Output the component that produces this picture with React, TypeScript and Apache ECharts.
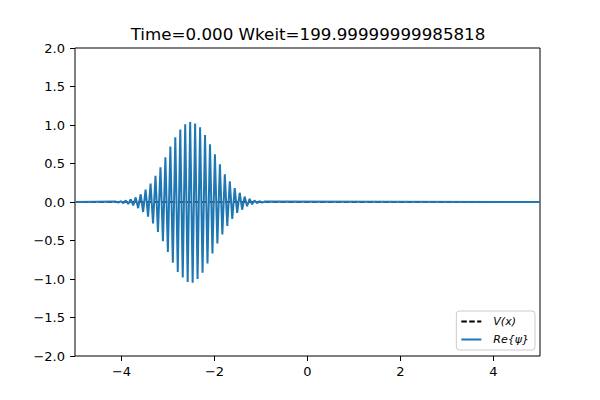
import { useEffect, useRef } from "react";
import * as echarts from "echarts";

// extrema of Re{psi}, left to right (x, value)
const waveX = [
  -5.0, -4.121, -4.068, -4.014, -3.961, -3.908, -3.855, -3.801, -3.748, -3.695,
  -3.642, -3.588, -3.535, -3.482, -3.429, -3.375, -3.322, -3.269, -3.216,
  -3.162, -3.109, -3.056, -3.003, -2.949, -2.896, -2.843, -2.79, -2.736,
  -2.683, -2.63, -2.577, -2.523, -2.47, -2.417, -2.364, -2.31, -2.257,
  -2.204, -2.151, -2.097, -2.044, -1.991, -1.938, -1.884, -1.831, -1.778,
  -1.725, -1.671, -1.618, -1.565, -1.512, -1.458, -1.405, -1.352, -1.299,
  -1.245, -1.192, -1.139, -1.086, -1.032, -0.979, -0.926, 5.0,
];
const waveY = [
  0, 0.005, -0.008, 0.01, -0.015, 0.02, -0.025, 0.035, -0.045, 0.06,
  -0.08, 0.1, -0.13, 0.16, -0.19, 0.24, -0.28, 0.34, -0.39,
  0.45, -0.51, 0.58, -0.65, 0.72, -0.79, 0.84, -0.91, 0.94,
  -0.98, 1.01, -1.04, 1.04, -1.05, 1.02, -1.0, 0.97, -0.92,
  0.87, -0.8, 0.75, -0.67, 0.62, -0.54, 0.49, -0.42, 0.36,
  -0.31, 0.27, -0.22, 0.18, -0.14, 0.12, -0.1, 0.07, -0.055,
  0.04, -0.03, 0.02, -0.015, 0.01, -0.008, 0.005, 0,
];
// potential is zero over the whole box
const potX = [-5, 5];
const potY = [0, 0];

const xTicks = [-4, -2, 0, 2, 4];
const titleText = "Time=0.000 Wkeit=199.99999999985818";

const font = "DejaVu Sans";
const minus = (s: string) => s.replace("-", "\u2212");

const App = () => {
  const chartRef = useRef<HTMLDivElement>(null);

  useEffect(() => {
    if (!chartRef.current) return;
    const chart = echarts.init(chartRef.current, null, { renderer: "svg" });

    const option = {
      animation: false,
      textStyle: { fontFamily: font },
      title: {
        text: titleText,
        left: 308,
        top: 25,
        padding: 0,
        textAlign: "center",
        textStyle: { fontFamily: font, fontSize: 16.7, fontWeight: "normal", color: "#000" },
      },
      grid: {
        left: 75,
        right: 60,
        top: 48,
        bottom: 44,
        show: true,
        borderColor: "#000",
        borderWidth: 1,
        backgroundColor: "#fff",
      },
      legend: {
        orient: "vertical",
        right: 65,
        bottom: 50,
        padding: [5, 6, 5, 4],
        itemWidth: 20,
        itemHeight: 10,
        itemGap: 7,
        backgroundColor: "#fff",
        borderColor: "#cccccc",
        borderWidth: 1,
        borderRadius: 3,
        // hide the marker dot, keep only the line sample
        itemStyle: { color: "rgba(0,0,0,0)", borderWidth: 0, opacity: 0 },
        textStyle: {
          fontFamily: font,
          fontSize: 11,
          fontStyle: "italic",
          color: "#000",
          padding: [0, 0, 0, 7],
        },
        data: ["V(x)", "Re{\u03c8}"],
      },
      xAxis: {
        type: "value",
        min: -5,
        max: 5,
        splitLine: { show: false },
        axisLine: { show: false, onZero: false },
        axisTick: {
          show: true,
          length: 5,
          customValues: xTicks,
          lineStyle: { color: "#000", width: 1 },
        },
        axisLabel: {
          customValues: xTicks,
          margin: 9,
          fontFamily: font,
          fontSize: 13,
          color: "#000",
          formatter: (v: number) => minus(String(v)),
        },
      },
      yAxis: {
        type: "value",
        min: -2,
        max: 2,
        interval: 0.5,
        splitLine: { show: false },
        axisLine: { show: false, onZero: false },
        axisTick: { show: true, length: 5, lineStyle: { color: "#000", width: 1 } },
        axisLabel: {
          margin: 10,
          fontFamily: font,
          fontSize: 13,
          color: "#000",
          formatter: (v: number) => minus(v.toFixed(1)),
        },
      },
      series: [
        {
          name: "V(x)",
          type: "line",
          showSymbol: false,
          symbol: "none",
          data: potX.map((x, i) => [x, potY[i]]),
          lineStyle: { color: "#000", width: 1.5, type: [5.5, 2.4] },
          itemStyle: { color: "#000" },
        },
        {
          name: "Re{\u03c8}",
          type: "line",
          showSymbol: false,
          symbol: "none",
          data: waveX.map((x, i) => [x, waveY[i]]),
          lineStyle: { color: "#1f77b4", width: 2 },
          itemStyle: { color: "#1f77b4" },
        },
      ],
    };

    chart.setOption(option);
    return () => {
      chart.dispose();
    };
  }, []);

  return <div ref={chartRef} style={{ width: 600, height: 400, margin: -8 }} />;
};

export default App;
